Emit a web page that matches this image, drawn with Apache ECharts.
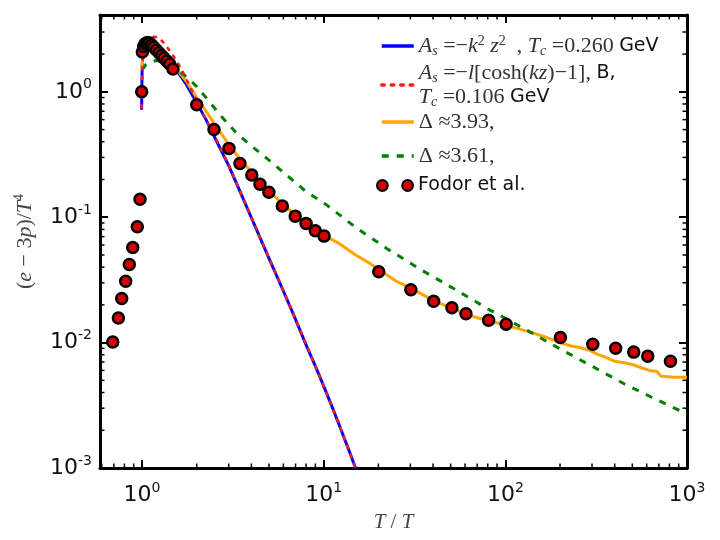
<!DOCTYPE html>
<html><head><meta charset="utf-8">
<script src="https://cdn.jsdelivr.net/npm/echarts@6/dist/echarts.min.js"></script>
<style>html,body{margin:0;padding:0;background:#fff}#c{width:720px;height:540px}</style>
</head><body><div id="c"></div>
<script>
// ---- axis ranges & ticks ----
const X_MIN = 0.587, X_MAX = 1000;
const Y_MIN = 0.001, Y_MAX = 4.1;
const xMinorTicks = [0.6,0.7,0.8,0.9,2,3,4,5,6,7,8,9,20,30,40,50,60,70,80,90,200,300,400,500,600,700,800,900];
const yMinorTicks = [0.002,0.003,0.004,0.005,0.006,0.007,0.008,0.009,0.02,0.03,0.04,0.05,0.06,0.07,0.08,0.09,0.2,0.3,0.4,0.5,0.6,0.7,0.8,0.9,2,3,4];

// ---- Fodor et al. lattice points ----
const fodorT = [0.69,0.741,0.773,0.813,0.851,0.889,0.942,0.975,0.996,1.004,1.02,1.04,1.07,1.10,1.13,1.16,1.20,1.24,1.28,1.32,1.37,1.42,1.48,2.0,2.49,3.01,3.46,4.02,4.46,4.99,5.92,6.97,8.0,8.99,10.05,20.1,30.2,40.3,50.8,60.7,80.9,101,201,303,405,509,608,811];
const fodorV = [0.0101,0.0157,0.0225,0.0309,0.042,0.0574,0.0838,0.139,1.0,2.08,2.3,2.42,2.48,2.45,2.36,2.27,2.16,2.05,1.95,1.86,1.76,1.67,1.52,0.79,0.50,0.354,0.268,0.217,0.183,0.158,0.123,0.102,0.0893,0.078,0.0707,0.0367,0.0264,0.0214,0.019,0.017,0.0151,0.0140,0.011,0.0097,0.009,0.0084,0.0078,0.0071];

// ---- A_s = -k^2 z^2 (blue) ----
const blueT = [0.995,0.998,1.002,1.01,1.03,1.06,1.10,1.15,1.2,1.3,1.4,1.5,1.62,1.75,2.0,2.25,2.5,3.0,3.5,4.0,5.0,6.0,7.0,8.0,9.0,10.0,11.0,12.0,13.0,14.0,15.0];
const blueV = [0.72,1.1,1.6,2.0,2.3,2.43,2.42,2.33,2.2,1.97,1.75,1.55,1.36,1.15,0.82,0.6,0.44,0.258,0.155,0.099,0.047,0.0258,0.0153,0.0096,0.0065,0.0045,0.0032,0.00233,0.00172,0.0013,0.00099];

// ---- A_s = -l[cosh(kz)-1] (red dotted) ----
const redT = [0.995,1.0,1.01,1.03,1.06,1.1,1.17,1.24,1.32,1.45,1.65,1.85,2.0,2.25,2.5,3.0,3.5,4.0,5.0,6.0,7.0,8.0,9.0,10.0,11.0,12.0,13.0,14.0,15.0];
const redV = [0.75,1.2,1.8,2.3,2.6,2.72,2.75,2.7,2.45,2.05,1.52,1.08,0.85,0.6,0.45,0.26,0.156,0.1,0.047,0.026,0.0154,0.0097,0.0065,0.0045,0.0032,0.00233,0.00172,0.0013,0.00099];

// ---- Delta ~ 3.93 (orange) ----
const orangeT = [1.0,1.01,1.03,1.07,1.1,1.2,1.3,1.5,1.75,2.0,2.5,3.0,3.5,4.0,4.5,5.0,6.0,7.0,8.0,9.0,10.0,12.0,15.0,18.0,20.0,25.0,30.0,40.0,50.0,60.0,70.0,80.0,100.0,130.0,160.0,200.0,230.0,260.0,290.0,320.0,360.0,400.0,450.0,500.0,560.0,620.0,680.0,720.0,850.0,1000.0];
const orangeV = [1.5,1.9,2.3,2.5,2.5,2.25,2.02,1.62,1.22,0.9,0.56,0.38,0.285,0.23,0.19,0.162,0.126,0.104,0.0905,0.0795,0.072,0.0625,0.05,0.0428,0.0385,0.031,0.0272,0.0218,0.0189,0.017,0.0158,0.015,0.0138,0.0124,0.0113,0.01,0.0094,0.0091,0.0087,0.0081,0.0076,0.0071,0.0069,0.0067,0.0063,0.006,0.0059,0.0054,0.0053,0.0053];

// ---- Delta ~ 3.61 (green dashed) ----
const greenT = [1.0,1.05,1.1,1.2,1.3,1.5,1.76,2.0,2.27,2.7,3.32,4.0,4.66,6.25,8.0,10.4,15.0,22.2,35.0,53.8,80.0,131,200,305,450,630,1000];
const greenV = [1.5,1.65,1.72,1.78,1.72,1.55,1.32,1.1,0.886,0.65,0.466,0.37,0.31,0.217,0.16,0.125,0.083,0.0564,0.0375,0.0262,0.0186,0.0126,0.0089,0.0064,0.0047,0.0037,0.0027];

const legendNames = ['k2','cosh','d393','d361','fodor'];
const legendTexts = [
  '{i|A}{sub|s}{r| =−}{i|k}{sup|2}{i| z}{sup|2}{r|  , }{i|T}{sub|c}{r| =0.260 }{g|GeV}',
  '{i|A}{sub|s}{r| =−}{i|l}{r|[cosh(}{i|kz}{r|)−1], }{g|B,}\n{i|T}{sub|c}{r| =0.106 }{g|GeV}',
  '{r|Δ ≈3.93,}',
  '{r|Δ ≈3.61,}',
  '{g|Fodor et al.}'
];

const zip = (a, b) => a.map((v, i) => [v, b[i]]);
const SERIF = 'Liberation Serif';
const SANS = 'DejaVu Sans';

const chart = echarts.init(document.getElementById('c'), null, {renderer: 'canvas'});

function supFmt(v) {
  const e = Math.log10(v);
  const r = Math.round(e);
  if (Math.abs(e - r) > 1e-6) return '';
  return '{b|10}{s|' + r + '}';
}
const labelRich = {
  b: {fontFamily: SANS, fontSize: 22, color: '#111', lineHeight: 28},
  s: {fontFamily: SANS, fontSize: 14, color: '#111', verticalAlign: 'top', lineHeight: 18}
};
const axisLineStyle = {color: '#000', width: 3};
const tickStyle = {show: true, inside: true, length: 8, lineStyle: {color: '#000', width: 2}};

function minorRender(isX) {
  return function (params, api) {
    const v = api.value(isX ? 0 : 1);
    const a = isX ? api.coord([v, Y_MIN]) : api.coord([X_MIN, v]);
    const b = isX ? api.coord([v, Y_MAX]) : api.coord([X_MAX, v]);
    const st = {stroke: '#000', lineWidth: 1.5};
    if (isX) {
      return {type: 'group', children: [
        {type: 'line', shape: {x1: a[0], y1: a[1], x2: a[0], y2: a[1] - 4.5}, style: st},
        {type: 'line', shape: {x1: b[0], y1: b[1], x2: b[0], y2: b[1] + 4.5}, style: st}
      ]};
    }
    return {type: 'group', children: [
      {type: 'line', shape: {x1: a[0], y1: a[1], x2: a[0] + 4.5, y2: a[1]}, style: st},
      {type: 'line', shape: {x1: b[0], y1: b[1], x2: b[0] - 4.5, y2: b[1]}, style: st}
    ]};
  };
}

const legendRich = {
  i: {fontFamily: SERIF, fontStyle: 'italic', fontSize: 22, color: '#333', lineHeight: 24},
  r: {fontFamily: SERIF, fontSize: 22, color: '#333', lineHeight: 24},
  sub: {fontFamily: SERIF, fontStyle: 'italic', fontSize: 14, color: '#333', verticalAlign: 'bottom', lineHeight: 12},
  sup: {fontFamily: SERIF, fontSize: 14, color: '#333', verticalAlign: 'top', lineHeight: 12},
  g: {fontFamily: SANS, fontSize: 19, color: '#111', lineHeight: 24}
};
const hideSym = {opacity: 0};
// one legend block per row: [name, top, left, itemWidth]
const legendRows = [['k2', 34, 380, 32], ['cosh', 62, 380, 32], ['d393', 111, 380, 32], ['d361', 145, 380, 32], ['fodor', 176, 376, 36]];
const legends = legendRows.map(function (row) {
  const item = {name: row[0]};
  if (row[0] === 'fodor') {
    item.icon = 'path://M0,6a6,6 0 1,0 12,0a6,6 0 1,0 -12,0zM28,6a6,6 0 1,0 12,0a6,6 0 1,0 -12,0z';
  } else {
    item.itemStyle = hideSym;
  }
  return {
    orient: 'vertical', left: row[2], top: row[1], itemWidth: row[3], itemHeight: 12,
    selectedMode: false, padding: 0, data: [item],
    lineStyle: {width: 3.5},
    formatter: function (name) { return legendTexts[legendNames.indexOf(name)]; },
    textStyle: {rich: legendRich}
  };
});

chart.setOption({
  animation: false,
  backgroundColor: '#fff',
  grid: {left: 100, right: 33, top: 15, bottom: 72, containLabel: false},
  xAxis: [{
    type: 'log', logBase: 10, min: X_MIN, max: X_MAX, position: 'bottom',
    axisLine: {show: true, lineStyle: axisLineStyle},
    axisTick: tickStyle,
    splitLine: {show: false},
    axisLabel: {formatter: supFmt, margin: 13, rich: labelRich, showMinLabel: true},
    name: '{i|T}{r| / }{i|T}', nameLocation: 'middle', nameGap: 44,
    nameTextStyle: {rich: {
      i: {fontFamily: SERIF, fontStyle: 'italic', fontSize: 21, color: '#444'},
      r: {fontFamily: SERIF, fontSize: 21, color: '#444'}}}
  }, {
    type: 'log', logBase: 10, min: X_MIN, max: X_MAX, position: 'top',
    axisLine: {show: true, lineStyle: axisLineStyle},
    axisTick: tickStyle, axisLabel: {show: false}, splitLine: {show: false}
  }],
  yAxis: [{
    type: 'log', logBase: 10, min: Y_MIN, max: Y_MAX, position: 'left',
    axisLine: {show: true, lineStyle: axisLineStyle},
    axisTick: tickStyle,
    splitLine: {show: false},
    axisLabel: {formatter: supFmt, margin: 8, rich: labelRich},
    name: '{p|(}{i|e}{p| − 3}{i|p}{p|)/}{i|T}{s|4}', nameLocation: 'middle', nameGap: 62, nameRotate: 90,
    nameTextStyle: {rich: {
      p: {fontFamily: SERIF, fontSize: 22, color: '#444', lineHeight: 26},
      i: {fontFamily: SERIF, fontStyle: 'italic', fontSize: 22, color: '#444', lineHeight: 26},
      s: {fontFamily: SERIF, fontSize: 14, color: '#444', verticalAlign: 'top', lineHeight: 14}}}
  }, {
    type: 'log', logBase: 10, min: Y_MIN, max: Y_MAX, position: 'right',
    axisLine: {show: true, lineStyle: axisLineStyle},
    axisTick: tickStyle, axisLabel: {show: false}, splitLine: {show: false}
  }],
  legend: legends,
  series: [
    {name: 'k2', type: 'line', data: zip(blueT, blueV), showSymbol: false, symbol: 'none',
     lineStyle: {color: '#0000ff', width: 3}, itemStyle: {color: '#0000ff'}, z: 2},
    {name: 'cosh', type: 'line', data: zip(redT, redV), showSymbol: false, symbol: 'none',
     lineStyle: {color: '#ff1a1a', width: 2.6, type: [2.5, 7], cap: 'round'}, itemStyle: {color: '#ff1a1a'}, z: 3},
    {name: 'd393', type: 'line', data: zip(orangeT, orangeV), showSymbol: false, symbol: 'none',
     lineStyle: {color: '#ffa500', width: 3}, itemStyle: {color: '#ffa500'}, z: 2},
    {name: 'd361', type: 'line', data: zip(greenT, greenV), showSymbol: false, symbol: 'none',
     lineStyle: {color: '#007f00', width: 3, type: [7, 8]}, itemStyle: {color: '#007f00'}, z: 2},
    {name: 'fodor', type: 'scatter', data: zip(fodorT, fodorV), symbol: 'circle', symbolSize: 11,
     itemStyle: {color: '#d40000', borderColor: '#000', borderWidth: 2.5, opacity: 1}, z: 5},
    {type: 'custom', data: xMinorTicks.map(v => [v, Y_MIN]), renderItem: minorRender(true), clip: false, silent: true, z: 6},
    {type: 'custom', data: yMinorTicks.map(v => [X_MIN, v]), renderItem: minorRender(false), clip: false, silent: true, z: 6}
  ]
});
</script>
</body></html>
